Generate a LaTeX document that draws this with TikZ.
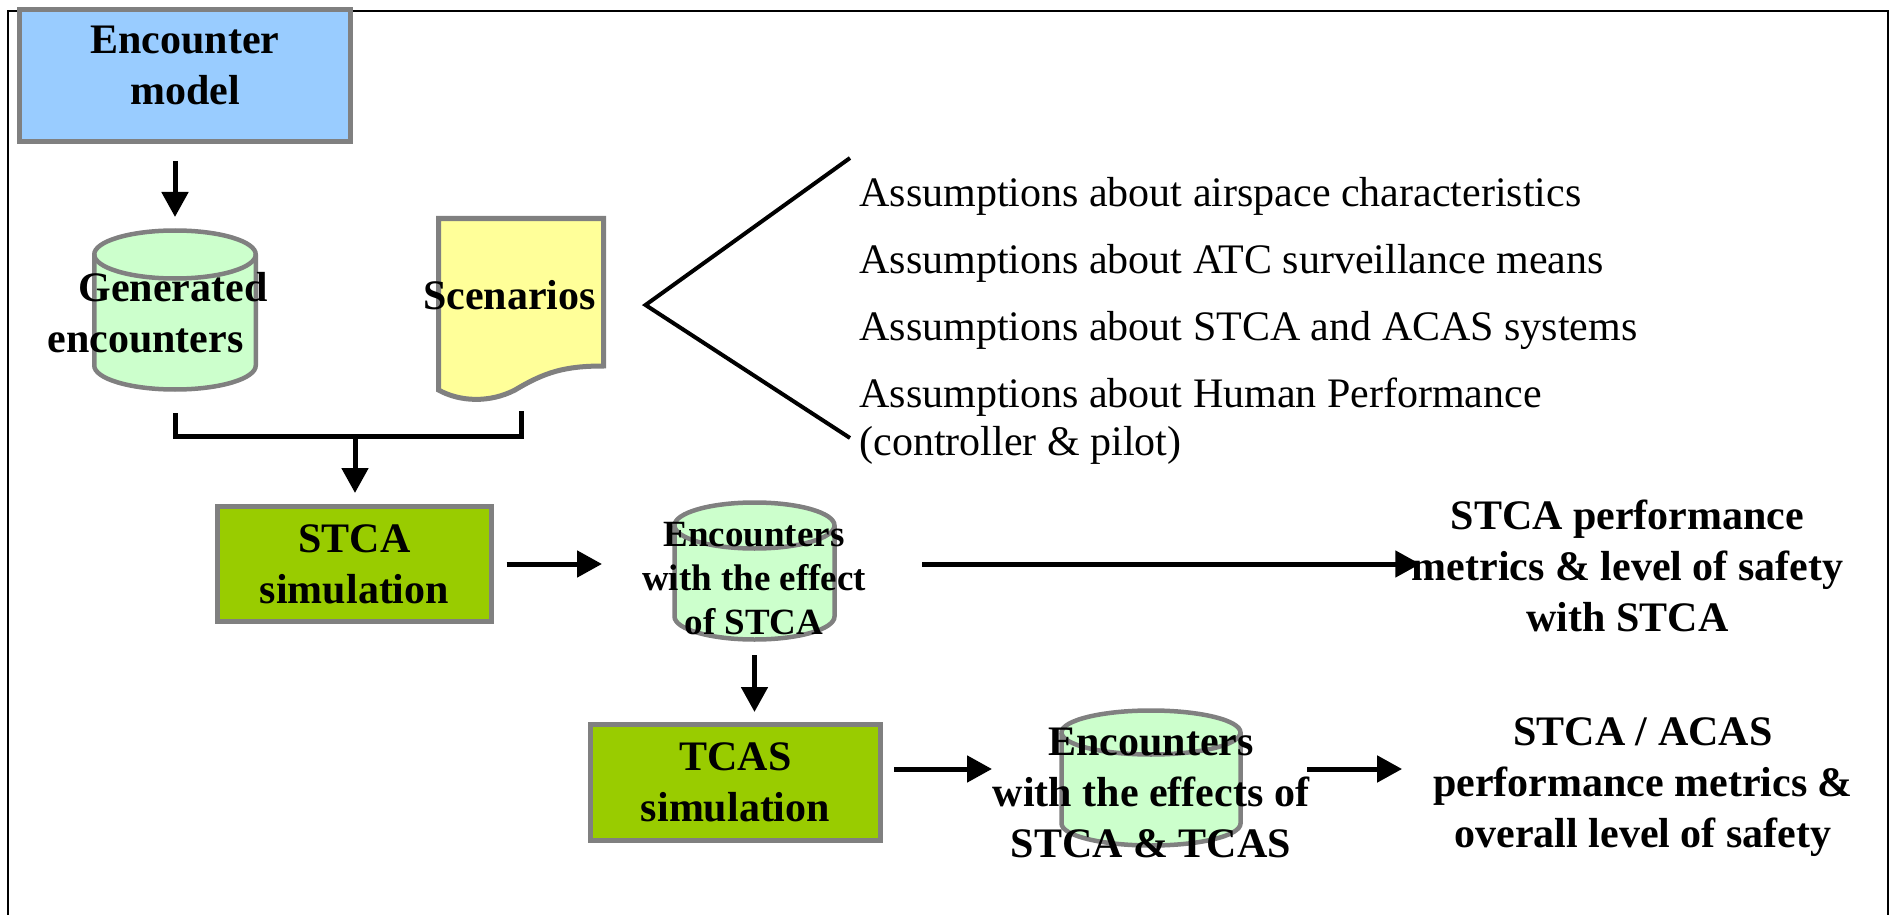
\documentclass[tikz,border=0pt]{standalone}
\usepackage{fontspec}
\setmainfont{Liberation Serif}
\usetikzlibrary{arrows.meta,calc}
\definecolor{edgegray}{HTML}{808080}
\definecolor{modelblue}{HTML}{99CCFF}
\definecolor{dbgreen}{HTML}{CCFFCC}
\definecolor{scenyellow}{HTML}{FFFF99}
\definecolor{simgreen}{HTML}{99CC00}
\newcommand\boldbig{\fontsize{21pt}{25.5pt}\selectfont\bfseries}
\newcommand\boldmid{\fontsize{18.5pt}{22pt}\selectfont\bfseries}
\newcommand\plainbig{\fontsize{21pt}{24pt}\selectfont}
% database cylinder drawn round a named node: #1 node, #2 x radius, #3 y radius of the end ellipses
\newcommand\dbcyl[3]{%
  \path[cylpaint] ([yshift=-#3]#1.north west) -- ([yshift=#3]#1.south west)
    arc[start angle=180, end angle=360, x radius=#2, y radius=#3]
    -- ([yshift=-#3]#1.north east)
    arc[start angle=0, end angle=180, x radius=#2, y radius=#3] -- cycle;
  \draw[cylpaint, fill=none] ([yshift=-#3]#1.north west)
    arc[start angle=180, end angle=360, x radius=#2, y radius=#3];
}
\begin{document}
\begin{tikzpicture}[x=0.5pt, y=-0.5pt,
  procbox/.style={draw=edgegray, line width=2.5pt, inner sep=0pt, outer sep=0pt, align=center, font=\boldbig},
  ghost/.style={inner sep=0pt, outer sep=0pt},
  boldtext/.style={align=center, inner sep=0pt, outer sep=0pt, font=\boldbig},
  arr/.style={line width=2.5pt, -{Triangle[length=12.5pt,width=13pt]}},
  conn/.style={line width=2.5pt},
  cylpaint/.style={draw=edgegray, fill=dbgreen, line width=2.25pt},
  forkline/.style={line width=2pt}]
\useasboundingbox (0,0) rectangle (1897,915);

% outer frame (open at the bottom)
\draw[line width=1pt] (8,915) -- (8,11) -- (1888,11) -- (1888,915);

% encounter model
\node[procbox, fill=modelblue, minimum width=165.5pt, minimum height=66pt, text depth=10pt] (model) at (185,75.5) {Encounter\\model};

% generated encounters database
\node[ghost, minimum width=80.75pt, minimum height=79.5pt] (gen) at (175,310) {};
\dbcyl{gen}{40.375pt}{12pt}
\node[boldtext, align=left] (gentxt) at (157.5,313) {\hspace*{15.5pt}Generated\\encounters};

\draw[arr, shorten <=9.75pt, shorten >=6.75pt] (model.south -| gen.north) -- (gen.north);

% scenarios document
\node[ghost, minimum width=82.5pt, minimum height=89.75pt] (scen) at (521,308.25) {};
\path[draw=edgegray, fill=scenyellow, line width=2.5pt]
  (438.5,390) -- (438.5,218.5) -- (603.5,218.5) -- (603.5,366)
  .. controls (565,366) and (545,372) .. (515,390)
  .. controls (490,403) and (460,402) .. (438.5,390) -- cycle;
\node[boldtext] (scentxt) at (509.5,295.5) {Scenarios};

% assumptions behind the scenarios
\coordinate (fork) at (645.5,305);
\coordinate (asmtop) at (850,158);
\coordinate (asmbot) at (850,438);
\draw[forkline] (asmtop) -- (fork) -- (asmbot);
\node[anchor=west, align=left, inner sep=0pt, font=\plainbig] (assume) at (859,320.7)
  {Assumptions about airspace characteristics\\[9.5pt]
   Assumptions about ATC surveillance means\\[9.5pt]
   Assumptions about STCA and ACAS systems\\[9.5pt]
   Assumptions about Human Performance\\
   (controller \& pilot)};

% STCA simulation
\node[procbox, fill=simgreen, minimum width=137pt, minimum height=57.5pt] (stca) at (354.5,564) {STCA\\simulation};
\coordinate (join) at (355,436);
\draw[conn] ($(gen.south)+(0,23.5)$) |- (join) -| ($(scen.south)+(0,13)$);
\draw[arr, shorten >=6.75pt] (join) -- (join |- stca.north);

% encounters with the effect of STCA
\node[ghost, minimum width=80pt, minimum height=68.5pt] (eff1) at (754.5,571) {};
\dbcyl{eff1}{40pt}{11.5pt}
\node[boldtext, font=\boldmid] (eff1txt) at (754,578.75) {Encounters\\with the effect\\of STCA};
\draw[arr, shorten <=7.5pt, shorten >=36.25pt] (stca.east) -- (stca.east -| eff1.west);

% STCA results
\node[boldtext] (out1) at (1627.5,565.5) {STCA performance\\metrics \& level of safety\\with STCA};
\draw[arr, shorten <=43.75pt, shorten >=-4.25pt] (stca.east -| eff1.east) -- (stca.east -| out1.west);

% TCAS simulation
\node[procbox, fill=simgreen, minimum width=145pt, minimum height=58pt] (tcas) at (735.5,782.5) {TCAS\\simulation};
\draw[arr, shorten <=7.75pt, shorten >=6.25pt] (eff1.south) -- (eff1.south |- tcas.north);

% encounters with the effects of STCA and TCAS
\node[ghost, minimum width=89.5pt, minimum height=67.5pt] (eff2) at (1151,778) {};
\dbcyl{eff2}{44.75pt}{11pt}
\node[boldtext] (eff2txt) at (1151,792.5) {Encounters\\with the effects of\\STCA \& TCAS};
\draw[arr, shorten <=6.75pt, shorten >=34.75pt] ($(tcas.east)+(0,-13.5)$) -- ($(tcas.east -| eff2.west)+(0,-13.5)$);

% overall results
\node[boldtext] (out2) at (1643,787.5) {STCA / ACAS\\performance metrics \&\\overall level of safety};
\draw[arr, shorten <=33.25pt, shorten >=15.5pt] ($(eff2.east)+(0,-9)$) -- ($(eff2.east -| out2.west)+(0,-9)$);
\end{tikzpicture}
\end{document}
